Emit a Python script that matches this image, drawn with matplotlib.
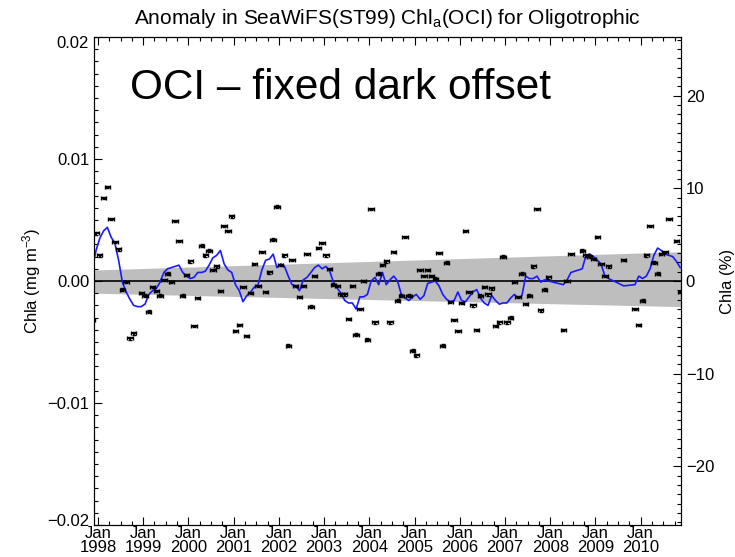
import numpy as np
import matplotlib
matplotlib.use("Agg")
import matplotlib.pyplot as plt
from matplotlib.ticker import MultipleLocator, FuncFormatter, FixedLocator
from matplotlib.transforms import ScaledTranslation

plt.rcParams['font.family'] = ['Liberation Sans', 'DejaVu Sans']
plt.rcParams['mathtext.fontset'] = 'custom'
plt.rcParams['mathtext.rm'] = 'Liberation Sans'
plt.rcParams['mathtext.it'] = 'Liberation Sans:italic'

nan = np.nan

# record starts Nov 1997, one value per month
START_YEAR, START_MONTH = 1997, 11
MEAN_CHL = 0.076  # mg m^-3, reference level for the % axis

# monthly anomaly (mg m^-3), gaps are missing months
anomaly = [
    -0.0032, 0.0039,                                                                          # 1997
    0.0021, 0.0068, 0.0077, 0.0051, 0.0032, 0.0026, -0.0007, -0.0001, -0.0047, -0.0043, nan, -0.0010,   # 1998
    -0.0012, -0.0025, -0.0005, -0.0008, -0.0012, 0.0001, 0.0006, -0.0001, 0.0049, 0.0033, -0.0012, 0.0005,  # 1999
    0.0016, -0.0037, -0.0014, 0.0029, 0.0021, 0.0025, 0.0009, 0.0012, -0.0008, 0.0045, 0.0041, 0.0053,   # 2000
    -0.0041, -0.0036, -0.0005, -0.0045, -0.0010, 0.0014, -0.0004, 0.0024, -0.0009, 0.0007, 0.0034, 0.0061,  # 2001
    0.0013, 0.0021, -0.0053, 0.0017, -0.0004, -0.0013, -0.0004, 0.0022, -0.0021, 0.0004, 0.0027, 0.0031,  # 2002
    0.0021, 0.0010, -0.0003, -0.0004, -0.0011, -0.0011, -0.0031, -0.0004, -0.0044, -0.0023, -0.0000, -0.0048,  # 2003
    0.0059, -0.0034, 0.0006, 0.0013, 0.0016, -0.0034, 0.0024, -0.0016, -0.0012, 0.0036, -0.0012, -0.0057,  # 2004
    -0.0061, 0.0009, 0.0004, 0.0009, 0.0004, 0.0002, 0.0023, -0.0053, 0.0015, -0.0017, -0.0032, -0.0041,  # 2005
    -0.0018, 0.0041, -0.0009, -0.0020, -0.0040, -0.0012, -0.0005, -0.0011, -0.0006, -0.0037, -0.0034, 0.0020,  # 2006
    -0.0034, -0.0030, -0.0001, -0.0013, 0.0006, -0.0019, -0.0012, 0.0012, 0.0059, -0.0024, -0.0007, 0.0003,  # 2007
    nan, nan, nan, -0.0040, 0.0000, 0.0022, nan, nan, 0.0025, 0.0021, 0.0020, 0.0018,          # 2008
    0.0036, 0.0014, 0.0004, 0.0012, nan, nan, nan, 0.0017, nan, nan, -0.0023, -0.0036,         # 2009
    -0.0016, 0.0021, 0.0045, 0.0015, 0.0006, 0.0022, 0.0024, 0.0051, nan, 0.0033, -0.0009,      # 2010
]

# smoothed anomaly (blue curve)
running = [
    0.0010, 0.0025,
    0.0035, 0.0041, 0.0044, 0.0036, 0.0031, 0.0017, -0.0001, -0.0009, -0.0015, -0.0020, -0.0021, -0.0021,
    -0.0019, -0.0011, -0.0008, -0.0006, -0.0001, 0.0007, 0.0010, 0.0011, 0.0012, 0.0013, 0.0007, 0.0004,
    0.0002, 0.0003, 0.0007, 0.0007, 0.0008, 0.0013, 0.0019, 0.0021, 0.0025, 0.0014, 0.0009, 0.0007,
    -0.0003, -0.0008, -0.0017, -0.0012, -0.0009, -0.0005, -0.0003, 0.0009, 0.0017, 0.0018, 0.0022, 0.0011,
    0.0014, 0.0012, 0.0004, -0.0003, -0.0004, -0.0008, 0.0001, 0.0003, 0.0007, 0.0011, 0.0013, 0.0010,
    0.0012, 0.0008, -0.0001, -0.0006, -0.0010, -0.0016, -0.0018, -0.0018, -0.0023, -0.0013, -0.0013, -0.0011,
    0.0000, 0.0003, -0.0003, 0.0007, -0.0003, 0.0001, 0.0004, 0.0000, -0.0011, -0.0014, -0.0016, -0.0013,
    -0.0011, -0.0015, -0.0012, -0.0002, -0.0001, 0.0000, -0.0004, -0.0011, -0.0015, -0.0017, -0.0016, -0.0009,
    -0.0016, -0.0017, -0.0013, -0.0009, -0.0007, -0.0014, -0.0018, -0.0020, -0.0012, -0.0016, -0.0019, -0.0018,
    -0.0018, -0.0014, -0.0011, -0.0014, -0.0012, 0.0004, 0.0002, 0.0002, 0.0004, -0.0001, 0.0001, 0.0000,
    nan, nan, nan, -0.0003, 0.0001, 0.0007, nan, nan, 0.0010, 0.0021, 0.0022, 0.0020,
    0.0017, 0.0014, 0.0004, 0.0002, nan, nan, nan, -0.0004, nan, nan, -0.0003, 0.0004,
    0.0002, 0.0004, 0.0010, 0.0021, 0.0027, 0.0025, 0.0022, 0.0021, 0.0020, 0.0016, 0.0011,
]

# trend uncertainty envelope at the start and end of the axis
band_time = [1997.914, 2010.892]
band_lower = [-0.0010, -0.0021]
band_upper = [0.0009, 0.0024]

tick_years = list(range(1998, 2011))

anomaly = np.array(anomaly)
running = np.array(running)
months = START_MONTH - 1 + np.arange(len(anomaly))
t = START_YEAR + (months + 0.5) / 12.0

fig = plt.figure(figsize=(7.35, 5.57), dpi=100)
ax = fig.add_axes([94 / 735, 1 - 525 / 557, 587 / 735, 488 / 557])

ax.fill_between(band_time, band_lower, band_upper, color='#bebebe', lw=0, zorder=1)
ax.axhline(0, color='k', lw=1.2, zorder=2)

ok = np.isfinite(running)
ax.plot(t[ok], running[ok], color='#1a1aff', lw=1.2, zorder=3)

pts = np.isfinite(anomaly)
ax.errorbar(t[pts], anomaly[pts], xerr=0.06, yerr=0.0001, fmt='none',
            ecolor='k', elinewidth=1.4, capsize=1.2, capthick=1.0, zorder=4)

ax.set_xlim(band_time[0], band_time[1])
ax.set_ylim(-0.02, 0.02)

ax.xaxis.set_major_locator(FixedLocator(tick_years))
ax.set_xticklabels(['Jan\n%d' % y for y in tick_years], linespacing=0.85)
ax.xaxis.set_minor_locator(MultipleLocator(0.25))
ax.yaxis.set_major_locator(FixedLocator([-0.02, -0.01, 0.0, 0.01, 0.02]))
ax.yaxis.set_minor_locator(MultipleLocator(0.001))
ax.yaxis.set_major_formatter(FuncFormatter(lambda v, p: ('%.2f' % v).replace('-', '\u2212')))

ax.tick_params(which='both', direction='in', top=True, right=False, width=0.8, labelsize=12)
ax.tick_params(which='major', length=6)
ax.tick_params(which='minor', length=3)
ax.tick_params(axis='x', pad=1)
for s in ax.spines.values():
    s.set_linewidth(0.8)

# nudge the end labels of the left axis inward, away from the corners
yticks = ax.yaxis.get_major_ticks()
for tick, shift in ((yticks[0], 5), (yticks[-1], -5)):
    lab = tick.label1
    lab.set_transform(lab.get_transform() + ScaledTranslation(0, shift / 100, fig.dpi_scale_trans))

ax.set_ylabel('Chla (mg m$^{-3}$)', fontsize=12, labelpad=3)

# percent axis on the right
ax2 = ax.twinx()
lim = 0.02 / MEAN_CHL * 100
ax2.set_ylim(-lim, lim)
ax2.yaxis.set_major_locator(MultipleLocator(10))
ax2.yaxis.set_minor_locator(MultipleLocator(1))
ax2.yaxis.set_major_formatter(FuncFormatter(lambda v, p: ('%d' % round(v)).replace('-', '\u2212')))
ax2.tick_params(which='both', direction='in', width=0.8, labelsize=12)
ax2.tick_params(which='major', length=6)
ax2.tick_params(which='minor', length=3)
ax2.set_ylabel('Chla (%)', fontsize=12, labelpad=4)
for s in ax2.spines.values():
    s.set_linewidth(0.8)

fig.text((94 + 681) / 2 / 735, 1 - 18 / 557,
         'Anomaly in SeaWiFS(ST99) Chl$_\\mathrm{a}$(OCI) for Oligotrophic',
         ha='center', va='center', fontsize=15)

ax.text(0.061, 0.895, 'OCI \u2013 fixed dark offset', transform=ax.transAxes,
        fontsize=30.5, ha='left', va='center', zorder=5)

fig.savefig('out.png', dpi=100)
